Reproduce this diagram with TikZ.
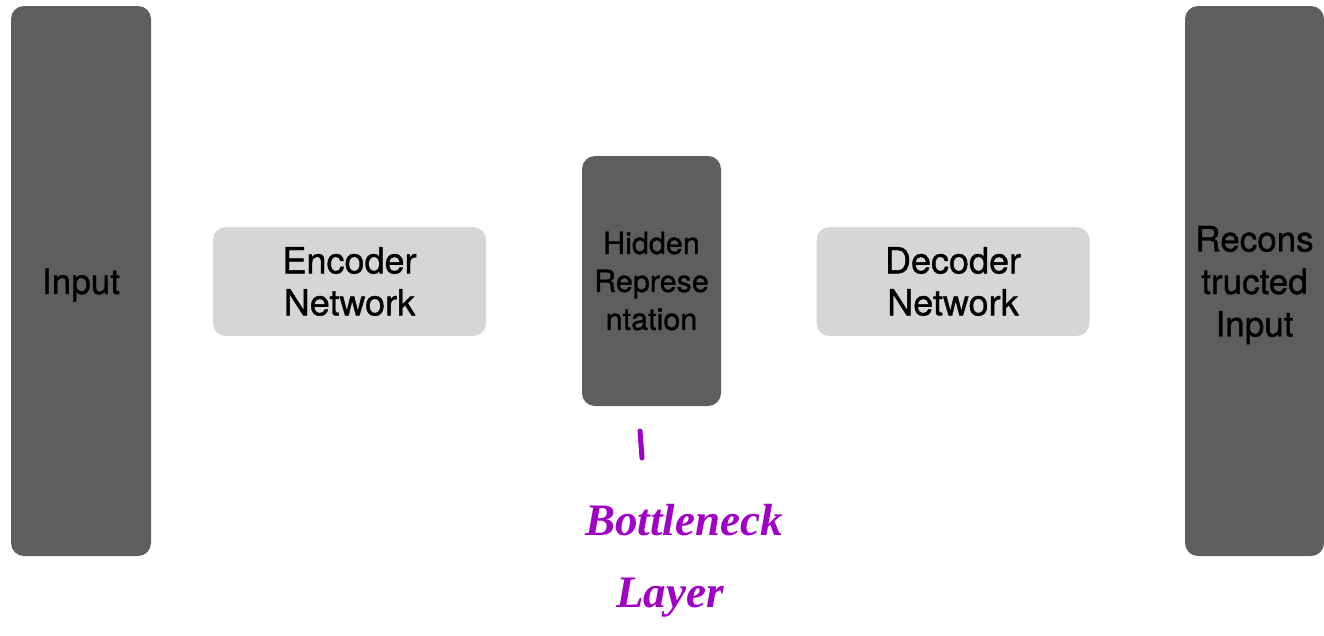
\documentclass[tikz,border=0pt]{standalone}
\usepackage{fontspec}
\setmainfont{TeX Gyre Heros}
\newfontfamily\boxfont{TeX Gyre Heros}[FakeBold=1]
\newfontfamily\handfont{Liberation Serif}
\usepackage{tikz}
\usetikzlibrary{positioning}

\definecolor{darkbox}{HTML}{5E5E5E}
\definecolor{lightbox}{HTML}{D6D6D6}
\definecolor{inkpurple}{HTML}{A000C4}

\begin{document}
\begin{tikzpicture}[x=1pt,y=-1pt,
	tallbox/.style={rectangle,rounded corners=13pt,fill=darkbox,inner sep=0pt,
		minimum width=140pt,minimum height=550pt},
	midbox/.style={rectangle,rounded corners=13pt,fill=darkbox,inner sep=0pt,
		minimum width=139pt,minimum height=250pt,align=center,
		font=\boxfont\fontsize{30.5}{38}\selectfont},
	netbox/.style={rectangle,rounded corners=13pt,fill=lightbox,inner sep=0pt,
		minimum width=273pt,minimum height=109pt,align=center,
		font=\boxfont\fontsize{36}{42}\selectfont},
	tallboxtext/.style={inner sep=0pt,align=center,font=\boxfont\fontsize{35}{42.5}\selectfont},
	ink/.style={text=inkpurple,font=\handfont\bfseries\itshape\fontsize{45}{50}\selectfont,inner sep=0pt}]
	\useasboundingbox (0,0) rectangle (1324,635);
	
	%boxes
	\node[tallbox] (input) at (81,281) {};
	\node[netbox]  (enc)   at (349.5,281.5) {Encoder\\Network};
	\node[midbox]  (hid)   at (651.5,281) {Hidden\\Represe\\ntation};
	\node[netbox]  (dec)   at (953,281.5) {Decoder\\Network};
	\node[tallbox,minimum width=139pt] (recon) at (1254.5,281) {};
	
	%labels of the tall boxes
	\node[tallboxtext] (input text) at ([yshift=-4pt]input.center) {Input};
	\node[tallboxtext] (recon text) at ([yshift=-4pt]recon.center) {Recons\\tructed\\Input};
	
	%handwritten note
	\coordinate (tick top) at (640,431);
	\coordinate (tick bot) at (642,458);
	\draw[inkpurple,line width=5pt,line cap=round] (tick top) -- (tick bot);
	\node[ink,anchor=base] (bottle) at (684,535) {Bottleneck};
	\node[ink,anchor=base] (layer)  at (670,607) {Layer};
\end{tikzpicture}
\end{document}
